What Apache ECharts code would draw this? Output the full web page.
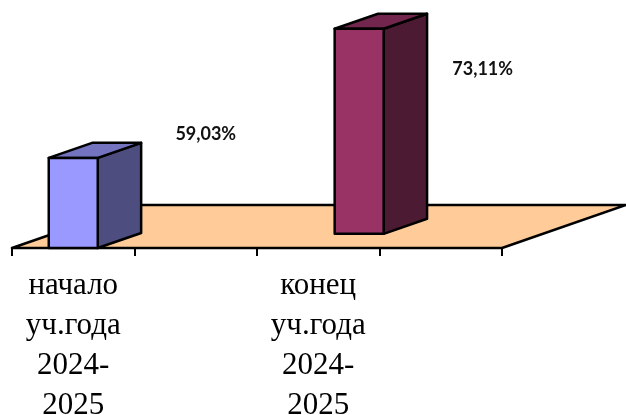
<!DOCTYPE html>
<html>
<head>
<meta charset="utf-8">
<script src="https://cdn.jsdelivr.net/npm/echarts@6/dist/echarts.min.js"></script>
<style>
  html, body { margin: 0; padding: 0; background: #fff; }
  #chart { width: 626px; height: 415px; }
</style>
</head>
<body>
<div id="chart"></div>
<script>
// данные
const categories = ['начало\nуч.года\n2024-\n2025', '', 'конец\nуч.года\n2024-\n2025', ''];
const barCats = [0, 2];
const values = [59.03, 73.11];
const valueLabels = ['59,03%', '73,11%'];

// псевдо-3D
const yMin = 48;
const depthX = 124, depthY = -43;   // глубина пола
const barDepth = 0.35;
const rowShift = [0, 0.33];
const faces = [
  { front: '#9999FF', top: '#7373C0', side: '#4D4D80' },
  { front: '#993366', top: '#73264D', side: '#4D1A33' }
];
const labelShift = [[108, -24], [99, 40]];

let myChart = echarts.init(document.getElementById('chart'));

function renderFloor(params, api) {
  const band = api.size([1, 0])[0];
  const a = api.coord([0, yMin]);
  const b = api.coord([categories.length - 1, yMin]);
  const l = a[0] - band / 2, r = b[0] + band / 2, y = a[1];
  return {
    type: 'polygon',
    shape: { points: [[l, y], [r, y], [r + depthX, y + depthY], [l + depthX, y + depthY]] },
    style: { fill: '#FFCC99', stroke: '#000', lineWidth: 2.5, lineJoin: 'round' }
  };
}

function renderBar(params, api) {
  const i = params.dataIndex;
  const cat = api.value(0), val = api.value(1);
  const base = api.coord([cat, yMin]);
  const top = api.coord([cat, val]);
  const band = api.size([1, 0])[0];
  const w = band * 0.4;
  const sx = depthX * rowShift[i], sy = depthY * rowShift[i];
  const x0 = base[0] - w / 2 + sx, x1 = x0 + w;
  const yb = base[1] + sy, yt = top[1] + sy;
  const dx = depthX * barDepth, dy = depthY * barDepth;
  const line = { stroke: '#000', lineWidth: 2.5, lineJoin: 'round' };
  const c = faces[i];
  return {
    type: 'group',
    children: [
      {
        type: 'polygon',
        shape: { points: [[x1, yt], [x1 + dx, yt + dy], [x1 + dx, yb + dy], [x1, yb]] },
        style: Object.assign({ fill: c.side }, line)
      },
      {
        type: 'polygon',
        shape: { points: [[x0, yt], [x1, yt], [x1 + dx, yt + dy], [x0 + dx, yt + dy]] },
        style: Object.assign({ fill: c.top }, line)
      },
      {
        type: 'rect',
        shape: { x: x0, y: yt, width: w, height: yb - yt },
        style: Object.assign({ fill: c.front }, line)
      },
      {
        type: 'text',
        style: {
          x: x1 + labelShift[i][0], y: yt + labelShift[i][1],
          text: valueLabels[i],
          fill: '#111',
          fontSize: 18,
          fontWeight: 'bold',
          fontFamily: 'Lato',
          align: 'center', verticalAlign: 'middle'
        }
      }
    ]
  };
}

const option = {
  animation: false,
  grid: { left: 12, right: 124, top: 3, bottom: 167, outerBoundsMode: 'none' },
  xAxis: {
    type: 'category',
    data: categories,
    axisLine: { show: true, lineStyle: { color: '#000', width: 2 } },
    axisTick: { show: true, length: 8, lineStyle: { color: '#000', width: 2 } },
    axisLabel: {
      interval: 0,
      color: '#000',
      fontFamily: 'Liberation Serif',
      fontSize: 31,
      lineHeight: 40,
      margin: 18
    },
    splitLine: { show: false }
  },
  yAxis: {
    type: 'value',
    min: yMin,
    max: 78,
    show: false,
    splitLine: { show: false }
  },
  series: [
    {
      type: 'custom',
      renderItem: renderFloor,
      data: [[0, yMin]],
      z: 1,
      silent: true
    },
    {
      type: 'custom',
      renderItem: renderBar,
      data: barCats.map((c, i) => [c, values[i]]),
      z: 3,
      clip: false
    }
  ]
};
myChart.setOption(option);
</script>
</body>
</html>
